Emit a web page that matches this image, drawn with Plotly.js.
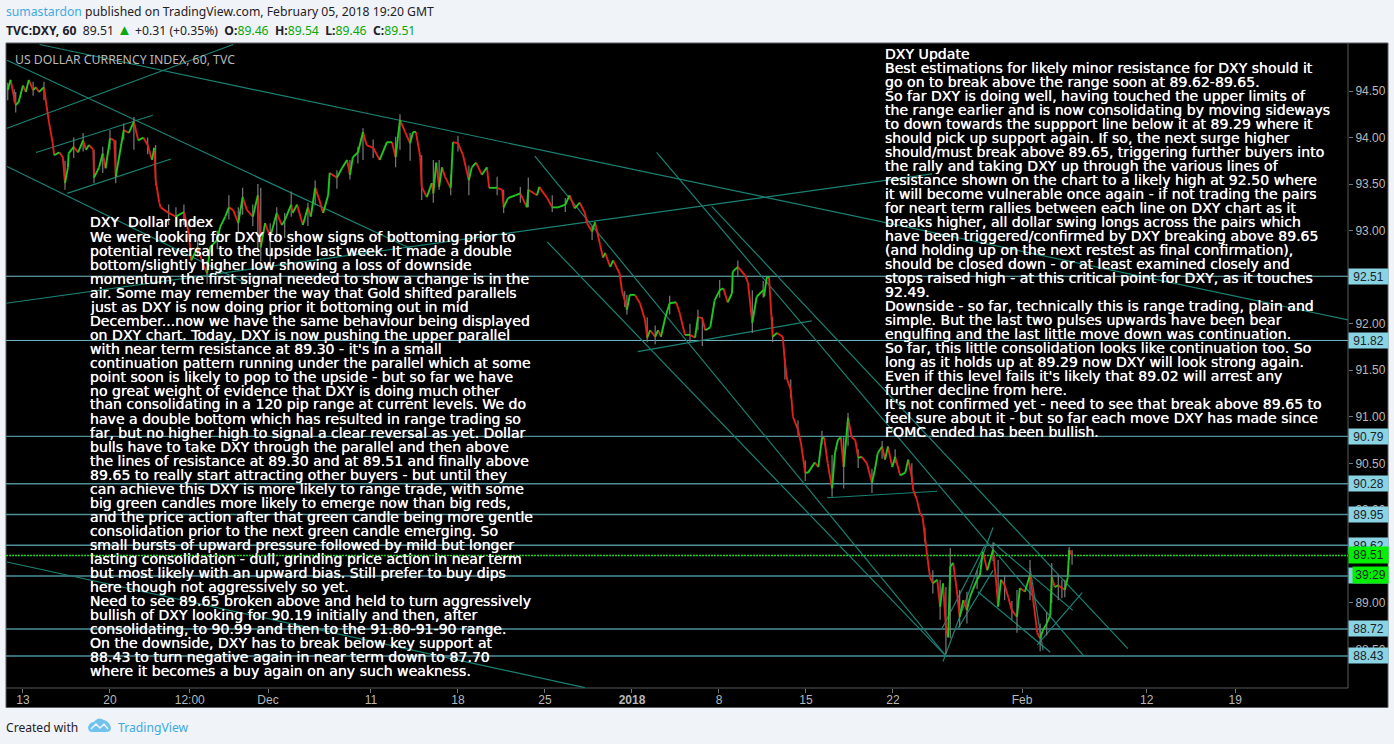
<!DOCTYPE html>
<html><head><meta charset="utf-8">
<script src="https://cdn.plot.ly/plotly-3.0.1.min.js"></script>
<style>html,body{margin:0;padding:0;background:#f0f3f8;overflow:hidden}</style>
</head><body><div id="chart" style="width:1394px;height:744px"></div>
<script>
// trading hours since Mon 13 Nov 2017 (120 trading hours per week) and closing prices
const hours = [-21,-17,-12,-10,-6,0,4,8,14,18,22,29,32,36,41,43,50,55,58,62,63,70,76,83,87,91,97,98,105,110,114,120,126,128,135,139,146,153,159,166,172,178,181,183,188,190,201,211,222,229,232,241,248,254,258,268,272,279,284,290,297,303,309,317,324,328,334,341,350,357,361,370,372,378,386,393,397,403,408,414,421,423,433,440,447,451,455,462,469,474,483,492,502,509,514,520,527,534,538,542,548,550,557,564,566,570,574,578,582,590,593,600,607,615,619,625,633,640,643,654,661,663,669,679,686,695,697,709,712,723,730,738,748,754,761,768,775,778,785,789,796,800,803,810,814,823,826,830,833,837,844,851,858,861,865,872,876,880,886,892,901,906,913,920,927,931,937,941,948,954,961,966,972,978,979,986,996,1000,1006,1012,1021,1022,1026,1029,1033,1034,1040,1044,1048,1051,1054,1059,1062,1069,1073,1079,1083,1092,1097,1102,1105,1110,1116,1120,1124,1128,1132,1138,1143,1148,1152,1157,1164,1171,1175,1179,1185,1189,1193,1199,1203,1210,1217,1221,1226,1228,1233,1237,1241,1244,1248,1251,1255,1261,1265,1269,1273,1276,1279,1283,1288,1292,1297,1302,1306,1310,1316,1320,1324,1330,1334,1338,1343,1345,1349,1354,1359,1364,1371,1375,1382,1389,1393,1399,1403,1407,1412,1417,1419,1423,1428,1433,1437,1441,1443,1447];
const closes = [94.51,94.62,94.42,94.35,94.38,94.56,94.49,94.62,94.51,94.54,94.49,94.54,94.37,94.16,93.94,93.81,93.84,93.79,93.51,93.68,93.83,93.90,93.84,93.97,93.87,93.92,93.87,93.57,93.68,93.83,93.67,93.99,93.97,93.58,93.90,94.08,94.05,94.17,93.97,94.00,93.92,93.76,93.89,93.54,93.30,93.25,93.19,93.15,93.20,92.97,92.68,92.82,92.65,92.54,92.82,92.90,93.04,93.15,93.25,93.22,93.08,93.36,93.22,93.15,93.38,92.82,93.08,92.93,93.19,93.06,93.11,93.28,93.19,93.28,93.06,93.25,93.15,93.46,93.35,93.19,93.38,93.62,93.57,93.67,93.76,93.60,93.79,93.84,94.06,93.92,93.89,93.76,93.95,93.95,93.79,94.19,94.06,93.94,94.06,94.06,93.79,93.47,93.36,93.51,93.40,93.73,93.47,93.68,93.58,93.46,93.95,93.94,93.81,93.54,93.68,93.73,93.60,93.68,93.46,93.46,93.44,93.25,93.35,93.38,93.40,93.25,93.44,93.38,93.47,93.35,93.25,93.25,93.28,93.38,93.24,93.30,93.19,93.08,92.99,93.09,92.85,92.71,92.76,92.61,92.68,92.54,92.36,92.25,92.15,92.31,92.31,92.22,92.04,91.85,91.93,91.86,91.93,91.86,92.07,92.22,92.23,92.11,91.88,91.88,91.85,92.07,92.06,91.93,91.96,92.25,92.36,92.38,92.23,92.33,92.56,92.61,92.52,92.44,92.01,92.29,92.36,92.29,92.50,92.50,92.01,91.86,91.90,91.88,91.86,91.58,91.40,91.29,91.00,90.86,90.72,90.40,90.40,90.51,90.46,90.77,90.78,90.50,90.23,90.61,90.75,90.78,90.46,90.99,90.78,90.75,90.56,90.57,90.50,90.29,90.43,90.61,90.68,90.54,90.68,90.46,90.57,90.37,90.40,90.54,90.35,90.21,90.11,89.97,89.92,89.71,89.46,89.28,89.21,89.25,88.96,89.21,88.74,88.63,89.39,89.43,89.14,88.85,89.03,88.92,89.06,89.14,89.25,89.30,89.55,89.35,89.46,89.57,89.17,88.96,89.25,89.19,89.06,88.92,88.85,89.16,89.12,89.30,89.06,88.68,88.62,88.71,88.78,88.87,89.28,89.17,89.19,89.16,89.14,89.27,89.57,89.51];

// the visible grey wicks
const wickHours = [-21,-10,58,98,120,128,153,183,201,222,254,297,303,324,328,341,350,361,403,451,469,514,520,550,566,574,590,615,663,697,730,833,861,931,937,1006,1034,1051,1069,1079,1116,1132,1138,1171,1244,1265,1273,1279,1292,1345,1354,1371,1389,1403,1419,1428,1437,1443,1447,-12,14,29,70,83,110,139,172,211,241,268,284,317,370,393,433,462,483,534,600,654,686,748,785,830,872,892,920,961,986,1021,1059,1102,1152,1185,1203,1226,1255,1302,1316,1338,1364,1412,1433];
const wickHighs = [94.59,94.49,93.75,93.87,94.08,93.97,94.22,93.92,93.28,93.28,92.68,93.25,93.46,93.50,93.46,93.08,93.25,93.19,93.54,93.76,94.10,94.01,94.25,93.81,93.76,93.76,93.60,93.70,93.44,93.57,93.38,92.31,92.07,92.15,92.07,92.36,92.07,91.63,90.96,90.53,90.59,90.78,91.04,90.44,89.81,89.25,89.17,89.59,89.14,89.46,89.30,89.14,89.46,88.78,89.43,89.30,89.25,89.60,89.57,94.52,94.60,94.60,94.00,94.05,93.90,94.15,94.00,93.25,92.90,93.00,93.38,93.28,93.42,93.30,93.65,93.90,93.98,94.05,94.02,93.58,93.47,93.35,93.05,92.35,91.98,92.30,92.00,92.47,92.68,92.46,91.40,90.85,90.65,90.74,90.65,90.50,89.35,89.12,89.35,89.65,89.02,88.90,89.25];
const wickLows = [94.40,94.27,93.44,93.51,93.87,93.51,93.87,93.49,93.06,93.06,92.43,92.98,93.17,92.79,92.67,92.65,92.90,92.92,93.27,93.55,93.76,93.68,93.87,93.33,93.30,93.44,93.38,93.38,93.19,93.25,93.20,92.10,91.80,91.93,91.76,91.90,91.80,91.40,90.80,90.31,90.14,90.23,90.69,90.18,89.65,88.82,88.45,88.62,88.74,89.03,89.03,88.68,89.03,88.48,89.00,89.03,89.06,89.46,89.41,94.38,94.45,94.40,93.78,93.85,93.62,93.98,93.82,93.05,92.72,92.80,93.12,93.05,93.15,93.05,93.45,93.72,93.78,93.75,93.85,93.38,93.30,93.20,92.90,92.18,91.78,92.10,91.80,92.28,92.50,92.28,91.20,90.70,90.45,90.55,90.50,90.30,89.10,88.78,89.15,89.45,88.82,88.65,89.05];

// drawn trend lines: start hour/price, end hour/price
const trendH1 = [23,-22,-22,18,61,-22,-22,-23,706,723,874,950,848,1109,1269,1268,1290,1338,1317,1389,1399];
const trendP1 = [95.00,94.10,94.83,93.84,93.40,93.69,89.44,92.22,93.80,92.88,93.84,93.26,91.70,90.13,88.37,88.73,88.73,89.65,89.12,89.38,88.55];
const trendH2 = [1828,290,534,179,204,306,775,1254,1274,1274,1463,1524,1088,1261,1338,1327,1338,1448,1417,1407,1461];
const trendP2 = [92.04,95.00,92.81,94.24,93.77,92.44,88.09,93.61,88.42,88.42,88.43,88.51,92.03,90.20,89.81,89.62,89.35,88.92,88.47,88.49,89.11];

// horizontal levels with their price tags
const levels = [92.51,91.82,90.79,90.28,89.95,89.62,89.29,88.72,88.43];
const levelTags = ['92.51','91.82','90.79','90.28','89.95','89.62','89.29','88.72','88.43'];
const lastPrice = 89.51;
const countdownPrice = 89.30;

const priceTicks = [94.5,94,93.5,93,92.5,92,91.5,91,90.5,90,89.5,89,88.5];
const priceLabels = ['94.50','94.00','93.50','93.00','92.50','92.00','91.50','91.00','90.50','90.00','89.50','89.00','88.50'];
const timeTicks = [0,120,230,338,480,600,720,840,960,1080,1200,1378,1550,1672];
const timeLabels = ['13','20','12:00','Dec','11','18','25','<b>2018</b>','8','15','22','Feb','12','19'];

const noteLeft = [
"DXY\u00a0\u00a0Dollar Index",
"We were looking for DXY to show signs of bottoming prior to",
"potential reversal to the upside last week. It made a double",
"bottom/slightly higher low showing a loss of downside",
"momentum, the first signal needed to show a change is in the",
"air. Some may remember the way that Gold shifted parallels",
"just as DXY is now doing prior it bottoming out in mid",
"December...now we have the same behaviour being displayed",
"on DXY chart. Today, DXY is now pushing the upper parallel",
"with near term resistance at 89.30 - it's in a small",
"continuation pattern running under the parallel which at some",
"point soon is likely to pop to the upside - but so far we have",
"no great weight of evidence that DXY is doing much other",
"than consolidating in a 120 pip range at current levels. We do",
"have a double bottom which has resulted in range trading so",
"far, but no higher high to signal a clear reversal as yet. Dollar",
"bulls have to take DXY through the parallel and then above",
"the lines of resistance at 89.30 and at 89.51 and finally above",
"89.65 to really start attracting other buyers - but until they",
"can achieve this DXY is more likely to range trade, with some",
"big green candles more likely to emerge now than big reds,",
"and the price action after that green candle being more gentle",
"consolidation prior to the next green candle emerging. So",
"small bursts of upward pressure followed by mild but longer",
"lasting consolidation - dull, grinding price action in near term",
"but most likely with an upward bias. Still prefer to buy dips",
"here though not aggressively so yet.",
"Need to see 89.65 broken above and held to turn aggressively",
"bullish of DXY looking for 90.19 initially and then, after",
"consolidating, to 90.99 and then to the 91.80-91-90 range.",
"On the downside, DXY has to break below key support at",
"88.43 to turn negative again in near term down to 87.70",
"where it becomes a buy again on any such weakness."];
const noteRight = [
"DXY Update",
"Best estimations for likely minor resistance for DXY should it",
"go on to break above the range soon at 89.62-89.65.",
"So far DXY is doing well, having touched the upper limits of",
"the range earlier and is now consolidating by moving sideways",
"to down towards the suppport line below it at 89.29 where it",
"should pick up support again. If so, the next surge higher",
"should/must break above 89.65, triggering further buyers into",
"the rally and taking DXY up through the various lines of",
"resistance shown on the chart to a likely high at 92.50 where",
"it will become vulnerable once again - if not trading the pairs",
"for neart term rallies between each line on DXY chart as it",
"breaks higher, all dollar swing longs across the pairs which",
"have been triggered/confirmed by DXY breaking above 89.65",
"(and holding up on the next restest as final confirmation),",
"should be closed down - or at least examined closely and",
"stops raised high - at this critical point for DXY, as it touches",
"92.49.",
"Downside - so far, technically this is range trading, plain and",
"simple. But the last two pulses upwards have been bear",
"engulfing and the last little move down was continuation.",
"So far, this little consolidation looks like continuation too. So",
"long as it holds up at 89.29 now DXY will look strong again.",
"Even if this level fails it's likely that 89.02 will arrest any",
"further decline from here.",
"It's not confirmed yet - need to see that break above 89.65 to",
"feel sure about it - but so far each move DXY has made since",
"FOMC ended has been bullish."];

const PL=6, PR=1348, PT=43, PB=688;
const fx = x => (x-PL)/(PR-PL), fy = y => (PB-y)/(PB-PT);
const uiFont = '"Noto Sans", sans-serif';
const noteFont = {family:'"DejaVu Sans", sans-serif', size:14.1, color:'#ffffff', shadow:'0 0 0.7px #ffffff'};

const upX=[],upY=[],dnX=[],dnY=[];
for(let i=1;i<hours.length;i++){
  const a = closes[i]>=closes[i-1] ? [upX,upY] : [dnX,dnY];
  a[0].push(hours[i-1],hours[i],null);
  a[1].push(closes[i-1],closes[i],null);
}
const wX=[],wY=[];
wickHours.forEach((h,i)=>{wX.push(h,h,null);wY.push(wickHighs[i],wickLows[i],null);});
const tX=[],tY=[];
trendH1.forEach((h,i)=>{tX.push(h,trendH2[i],null);tY.push(trendP1[i],trendP2[i],null);});

const traces=[
 {type:'scatter',mode:'lines',x:tX,y:tY,line:{color:'#1a8274',width:1.2},hoverinfo:'skip',connectgaps:false},
 {type:'scatter',mode:'lines',x:wX,y:wY,line:{color:'#7a7a7a',width:1.2},hoverinfo:'skip',connectgaps:false},
 {type:'scatter',mode:'lines',x:dnX,y:dnY,line:{color:'#e0201c',width:1.9},hoverinfo:'skip',connectgaps:false},
 {type:'scatter',mode:'lines',x:upX,y:upY,line:{color:'#1fc81f',width:1.9},hoverinfo:'skip',connectgaps:false}
];

const shapes=[
 {type:'rect',xref:'paper',yref:'paper',x0:fx(6),x1:fx(1388),y0:fy(707.5),y1:fy(43),fillcolor:'#000',line:{color:'#5a5d62',width:1},layer:'below'},
 {type:'line',xref:'paper',yref:'paper',x0:1,x1:1,y0:0,y1:1,line:{color:'#55585c',width:1},layer:'below'},
 {type:'line',xref:'paper',yref:'paper',x0:0,x1:1,y0:0,y1:0,line:{color:'#55585c',width:1},layer:'below'},
 {type:'path',xref:'paper',yref:'paper',fillcolor:'#6fc3ec',line:{width:0},
  path:`M${fx(88)},${fy(727)} Q${fx(90)},${fy(722)} ${fx(94)},${fy(722)} Q${fx(98)},${fy(716)} ${fx(104)},${fy(720)} Q${fx(110)},${fy(722)} ${fx(111)},${fy(728)} Q${fx(111)},${fy(732)} ${fx(106)},${fy(732)} L${fx(92)},${fy(732)} Q${fx(88)},${fy(732)} ${fx(88)},${fy(727)} Z`},
 {type:'path',xref:'paper',yref:'paper',line:{color:'#f0f3f8',width:1.5},
  path:`M${fx(91)},${fy(729)} L${fx(96)},${fy(724)} L${fx(100)},${fy(728)} L${fx(104)},${fy(724)} L${fx(108)},${fy(729)}`}
];
levels.forEach(v=>shapes.push({type:'line',xref:'paper',yref:'y',x0:0,x1:1,y0:v,y1:v,layer:'below',
  line:{color:v>91?'#72bcc6':'#4f8f98',width:v>91?1:1.4}}));
shapes.push({type:'line',xref:'paper',yref:'y',x0:0,x1:1,y0:lastPrice,y1:lastPrice,layer:'below',line:{color:'#14d814',width:1.5,dash:'2px,1px'}});

const annotations=[];
const txt=(text,x,y,font)=>annotations.push({text,xref:'paper',yref:'paper',x:fx(x-1),y:fy(y),xanchor:'left',yanchor:'middle',align:'left',showarrow:false,font,borderpad:0});
noteLeft.forEach((s,i)=>txt(s,90,222.5+i*14,noteFont));
noteRight.forEach((s,i)=>txt(s,885,53.5+i*14.02,noteFont));
txt('US DOLLAR CURRENCY INDEX, 60, TVC',15,60,{family:uiFont,size:12.25,color:'#b9b9b9'});
txt('<span style="color:#3fa9e3">sumastardon</span> published on TradingView.com, February 05, 2018 19:20 GMT',6,11,{family:uiFont,size:12.2,color:'#1e2126'});
const G=s=>'<span style="color:#0aa80a">'+s+'</span>';
txt('<b>TVC:DXY, 60</b>\u00a0\u00a089.51 '+'<span style="color:#0aa80a;font-size:15px">\u25B2</span>'+' +0.31 (+0.35%) \u00a0<b>O:</b>'+G('89.46')+' \u00a0<b>H:</b>'+G('89.54')+' \u00a0<b>L:</b>'+G('89.46')+' \u00a0<b>C:</b>'+G('89.51'),6,29,{family:uiFont,size:12.2,color:'#1e2126'});
txt('Created with',6,727,{family:uiFont,size:12.1,color:'#1e2126'});
txt('TradingView',118,727,{family:uiFont,size:12.2,color:'#3fa9e3'});

const tag=(t,v,bg,w,h,xs)=>annotations.push({text:t,xref:'paper',yref:'y',x:1,y:v,xanchor:'left',yanchor:'middle',xshift:xs,width:w,height:h,align:'center',valign:'middle',showarrow:false,bgcolor:bg,borderpad:0,font:{family:'"Liberation Sans", Arial, sans-serif',size:12,color:'#1a2228'}});
levels.forEach((v,i)=>tag(levelTags[i],v,'#8ad3e3',39,15,0));
tag('89.51',lastPrice,'#00f000',39,16,0);
tag('39:29',countdownPrice,'#00f000',35,16,4);

Plotly.newPlot('chart',traces,{
  width:1394,height:744,showlegend:false,hovermode:false,
  margin:{l:PL,r:1394-PR,t:PT,b:744-PB,pad:0},
  paper_bgcolor:'#f0f3f8',plot_bgcolor:'#000',
  xaxis:{range:[-23.4,1827.6],tickmode:'array',tickvals:timeTicks,ticktext:timeLabels,showgrid:false,zeroline:false,ticks:'outside',ticklen:4,tickcolor:'#777',ticklabelstandoff:-3,
    tickfont:{family:'"Liberation Sans", Arial, sans-serif',size:12,color:'#b8b8b8'},showline:false},
  yaxis:{side:'right',range:[88.086,95.016],tickmode:'array',tickvals:priceTicks,ticktext:priceLabels,showgrid:false,zeroline:false,ticks:'outside',ticklen:4,tickcolor:'#777',
    tickfont:{family:'"Liberation Sans", Arial, sans-serif',size:12,color:'#b8b8b8'},showline:false},
  shapes,annotations
},{displayModeBar:false,staticPlot:true});
</script></body></html>
